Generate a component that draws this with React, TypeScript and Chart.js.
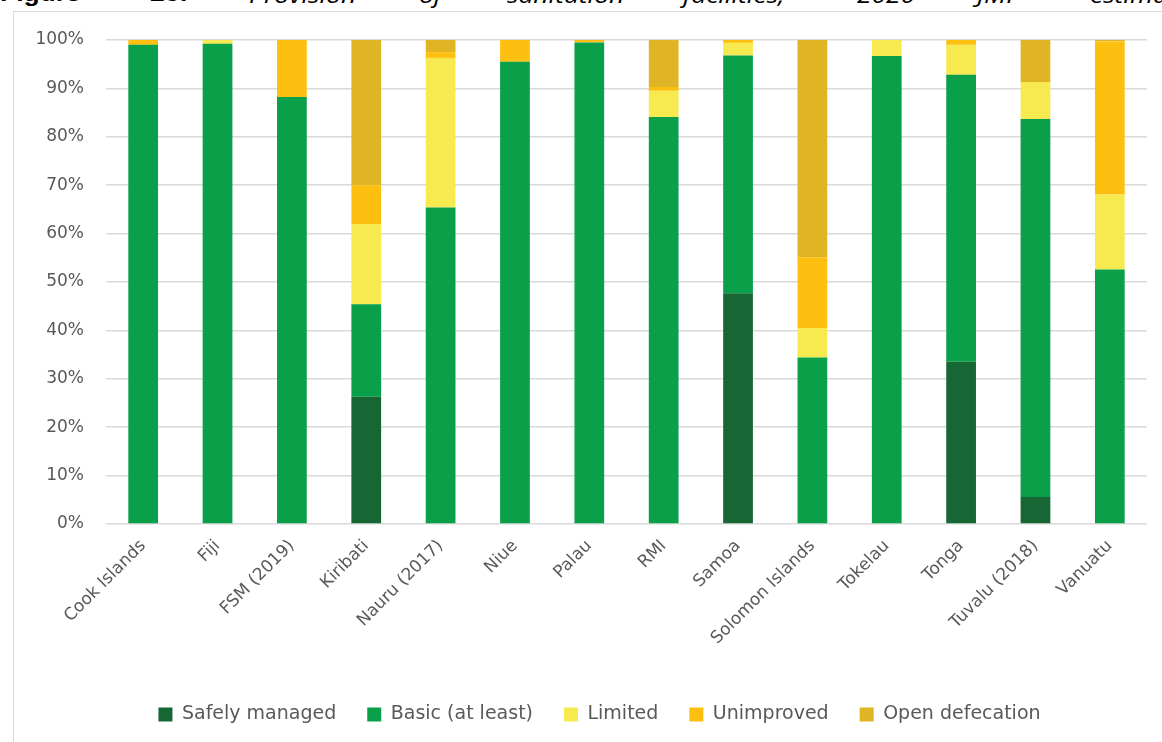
import React, { useEffect, useRef } from 'react';
import { Chart, registerables } from 'chart.js';

Chart.register(...registerables);

const categories = [
  'Cook Islands', 'Fiji', 'FSM (2019)', 'Kiribati', 'Nauru (2017)', 'Niue', 'Palau',
  'RMI', 'Samoa', 'Solomon Islands', 'Tokelau', 'Tonga', 'Tuvalu (2018)', 'Vanuatu',
];
const safelyManaged = [0, 0, 0, 26.3, 0, 0, 0, 0, 47.7, 0, 0, 33.5, 5.6, 0];
const basicAtLeast = [99.0, 99.2, 88.2, 19.1, 65.4, 95.5, 99.5, 84.1, 49.1, 34.4, 96.7, 59.3, 78.1, 52.6];
const limited = [0, 0.8, 0, 16.6, 30.9, 0, 0, 5.4, 2.6, 6.1, 3.3, 6.2, 7.6, 15.5];
const unimproved = [1.0, 0, 11.8, 8.0, 1.2, 4.5, 0.5, 0.8, 0.6, 14.6, 0, 1.0, 0, 31.6];
const openDefecation = [0, 0, 0, 30.0, 2.5, 0, 0, 9.7, 0, 44.9, 0, 0, 8.7, 0.3];
const yTicks = [0, 10, 20, 30, 40, 50, 60, 70, 80, 90, 100];

const seriesNames = ['Safely managed', 'Basic (at least)', 'Limited', 'Unimproved', 'Open defecation'];
const seriesColors = ['#176734', '#0aa04a', '#f7ea50', '#fdc010', '#dfb526'];

const titleWords: { text: string; left: number; bold?: boolean }[] = [
  { text: 'Figure', left: 0, bold: true },
  { text: '23:', left: 150, bold: true },
  { text: 'Provision', left: 249 },
  { text: 'of', left: 419 },
  { text: 'sanitation', left: 507 },
  { text: 'facilities,', left: 683 },
  { text: '2020', left: 857 },
  { text: 'JMP', left: 977 },
  { text: 'estimates', left: 1090 },
];

const FONT = 'DejaVu Sans';
const TEXT = '#595959';

const shiftLegend = {
  id: 'shiftLegend',
  afterLayout(chart: any) {
    const lg = chart.legend;
    if (lg) {
      lg.left += 19;
      lg.right += 19;
    }
  },
};

export default function App() {
  const ref = useRef<HTMLCanvasElement>(null);

  useEffect(() => {
    const values = [safelyManaged, basicAtLeast, limited, unimproved, openDefecation];
    const chart = new Chart(ref.current!, {
      type: 'bar',
      data: {
        labels: categories,
        datasets: seriesNames.map((name, i) => ({
          label: name,
          data: values[i],
          backgroundColor: seriesColors[i],
          borderWidth: 0,
          categoryPercentage: 1,
          barPercentage: 0.4,
        })),
      },
      plugins: [shiftLegend],
      options: {
        animation: false,
        responsive: false,
        layout: { padding: { top: 28, right: 15, bottom: 8, left: 0 } },
        plugins: {
          legend: {
            position: 'bottom',
            labels: {
              boxWidth: 14,
              boxHeight: 14,
              padding: 31,
              color: TEXT,
              font: { family: FONT, size: 19 },
            },
          },
          tooltip: { enabled: false },
        },
        scales: {
          x: {
            stacked: true,
            grid: { display: false },
            border: { display: false },
            ticks: {
              minRotation: 45,
              maxRotation: 45,
              padding: 4,
              color: TEXT,
              font: { family: FONT, size: 17 },
            },
            afterFit: (s: any) => {
              s.height = 150;
            },
          },
          y: {
            stacked: true,
            min: 0,
            max: 100,
            afterBuildTicks: (s: any) => {
              s.ticks = yTicks.map((v) => ({ value: v }));
            },
            ticks: {
              padding: 22,
              color: TEXT,
              font: { family: FONT, size: 17 },
              callback: (v: any) => v + '%',
            },
            grid: { color: '#d9d9d9', lineWidth: 1.5, drawTicks: false },
            border: { display: false },
            afterFit: (s: any) => {
              s.width = 92;
              s.paddingTop = 0;
              s.paddingBottom = 0;
            },
          },
        },
      },
    });
    return () => chart.destroy();
  }, []);

  return (
    <div
      style={{
        position: 'fixed',
        left: 0,
        top: 0,
        width: 1162,
        height: 742,
        overflow: 'hidden',
        background: '#fff',
      }}
    >
      {titleWords.map((w) => (
        <span
          key={w.text}
          style={{
            position: 'absolute',
            left: w.left,
            top: -17,
            fontSize: 22,
            lineHeight: '22px',
            whiteSpace: 'nowrap',
            fontFamily: w.bold ? 'Liberation Sans' : 'Open Sans',
            fontWeight: w.bold ? 700 : 400,
            fontStyle: w.bold ? 'normal' : 'italic',
            color: '#000',
            transform: 'scaleX(1.2)',
            transformOrigin: 'left top',
          }}
        >
          {w.text}
        </span>
      ))}
      <div
        style={{
          position: 'absolute',
          left: 13,
          top: 11,
          width: 1200,
          height: 800,
          border: '1px solid #d9d9d9',
          boxSizing: 'border-box',
          background: '#fff',
        }}
      />
      <canvas
        ref={ref}
        width={1148}
        height={730}
        style={{ position: 'absolute', left: 14, top: 12, width: 1148, height: 730 }}
      />
    </div>
  );
}
